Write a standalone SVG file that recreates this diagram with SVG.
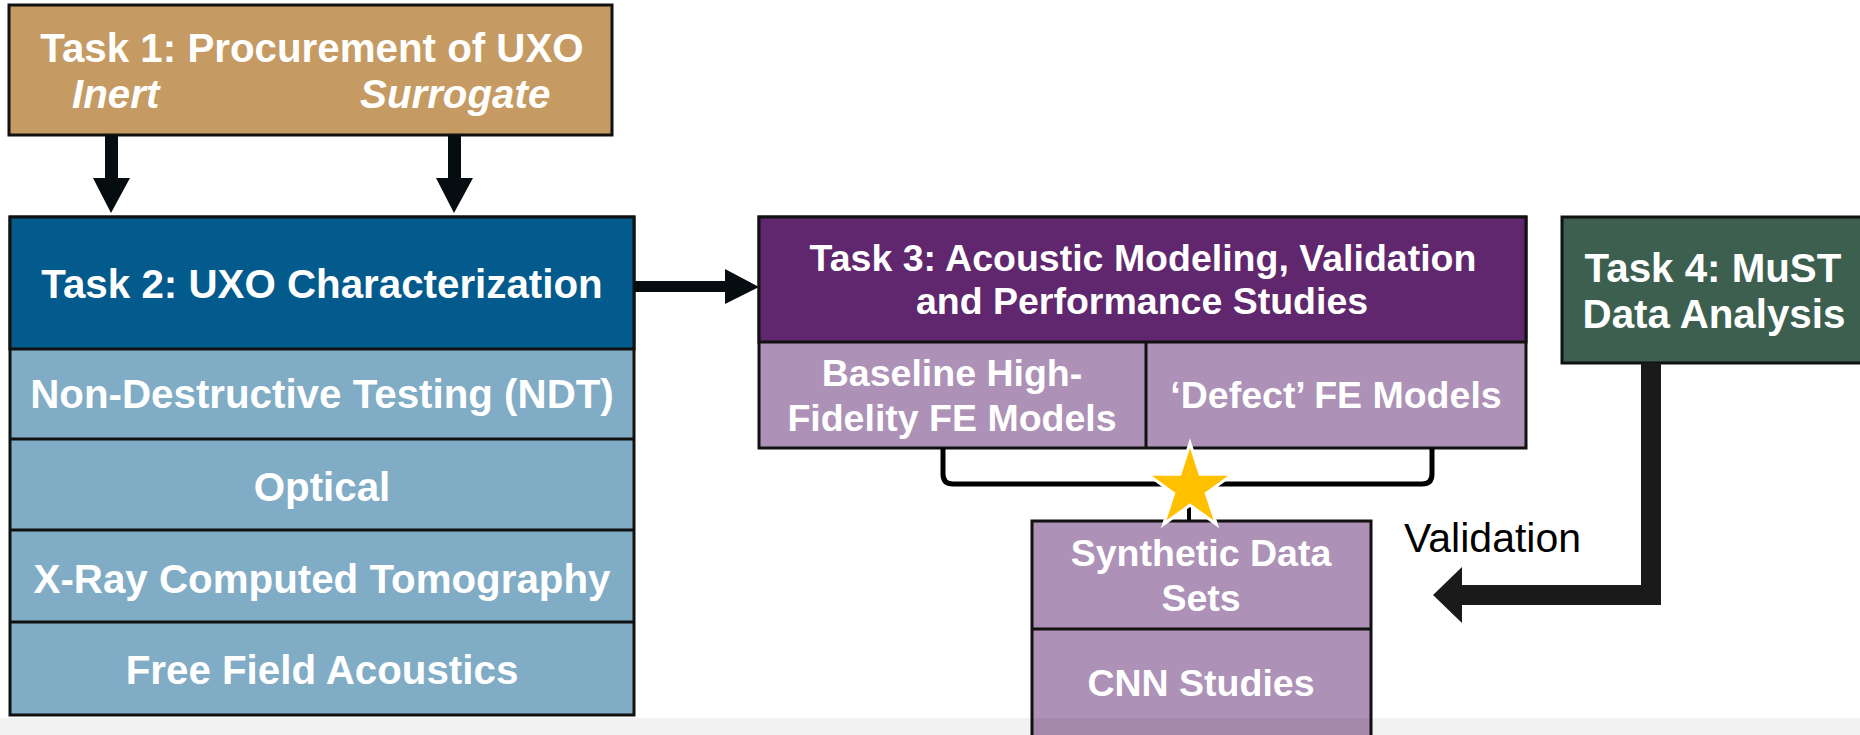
<svg xmlns="http://www.w3.org/2000/svg" width="1860" height="735" viewBox="0 0 1860 735">
  <style>
    .box { stroke: #111; stroke-width: 3; }
    .tan { fill: #C59B63; }
    .blue { fill: #035A8D; }
    .lblue { fill: #80ACC6; }
    .purple { fill: #60266E; }
    .lpurple { fill: #AD91B7; }
    .green { fill: #3C5F4F; }
    .t { font-family: "Liberation Sans", Arial, sans-serif; font-weight: bold; fill: #fff; text-anchor: middle; font-size: 40.3px; }
    .s { font-size: 37.5px; }
    .it { font-style: italic; text-anchor: start; }
    .lbl { font-family: "Liberation Sans", Arial, sans-serif; font-size: 41px; fill: #000; }
    .sep { stroke: #111; stroke-width: 3; }
  </style>

  <rect width="1860" height="735" fill="#fff"/>

  <!-- Task 1 -->
  <g id="task1">
    <rect class="box tan" x="9" y="5" width="603" height="130"/>
    <text class="t" x="312" y="62">Task 1: Procurement of UXO</text>
    <text class="t it" x="72" y="108">Inert</text>
    <text class="t it" x="360" y="108">Surrogate</text>
  </g>

  <!-- Task 2 with its characterisation methods -->
  <g id="task2">
    <rect class="box lblue" x="10" y="217" width="624" height="498"/>
    <rect class="box blue" x="10" y="217" width="624" height="132"/>
    <line class="sep" x1="10" y1="439" x2="634" y2="439"/>
    <line class="sep" x1="10" y1="530" x2="634" y2="530"/>
    <line class="sep" x1="10" y1="622" x2="634" y2="622"/>
    <text class="t" x="322" y="298">Task 2: UXO Characterization</text>
    <text class="t" x="322" y="408">Non-Destructive Testing (NDT)</text>
    <text class="t" x="322" y="501">Optical</text>
    <text class="t" x="322" y="593">X-Ray Computed Tomography</text>
    <text class="t" x="322" y="684">Free Field Acoustics</text>
  </g>

  <!-- Task 3 with model types -->
  <g id="task3">
    <rect class="box lpurple" x="759" y="217" width="767" height="231"/>
    <rect class="box purple" x="759" y="217" width="767" height="125"/>
    <line class="sep" x1="1146" y1="342" x2="1146" y2="448"/>
    <text class="t s" x="1143" y="271">Task 3: Acoustic Modeling, Validation</text>
    <text class="t s" x="1142" y="314">and Performance Studies</text>
    <text class="t s" x="952" y="386">Baseline High-</text>
    <text class="t s" x="952" y="431">Fidelity FE Models</text>
    <text class="t s" x="1336" y="408">‘Defect’ FE Models</text>
  </g>

  <!-- Task 4 -->
  <g id="task4">
    <rect class="box green" x="1562" y="217" width="310" height="146"/>
    <text class="t" x="1713" y="282">Task 4: MuST</text>
    <text class="t" x="1714" y="328">Data Analysis</text>
  </g>

  <!-- Connectors -->
  <g id="connectors">
    <path fill="#060D10" d="M105,135 L118,135 L118,178 L130,178 L111,213 L93,178 L105,178 Z"/>
    <path fill="#060D10" d="M448,135 L461,135 L461,178 L473,178 L454,213 L436,178 L448,178 Z"/>
    <path fill="#060D10" d="M634,281 L725,281 L725,269 L759,287 L725,304 L725,292 L634,292 Z"/>
    <path fill="none" stroke="#000" stroke-width="5" d="M943,448 V474 Q943,484 953,484 H1422 Q1432,484 1432,474 V448"/>
    <line x1="1189" y1="484" x2="1189" y2="522" stroke="#000" stroke-width="4"/>
    <path fill="#1A1A1A" d="M1641,363 L1661,363 L1661,605 L1462,605 L1462,623 L1433,595 L1462,567 L1462,585 L1641,585 Z"/>
    <text class="lbl" x="1404" y="552">Validation</text>
  </g>

  <!-- Synthetic data / CNN block -->
  <g id="synthetic">
    <rect class="box lpurple" x="1032" y="521" width="339" height="220"/>
    <line class="sep" x1="1032" y1="629" x2="1371" y2="629"/>
    <text class="t s" x="1201" y="566">Synthetic Data</text>
    <text class="t s" x="1201" y="611">Sets</text>
    <text class="t s" x="1201" y="696">CNN Studies</text>
  </g>

  <!-- Highlight star -->
  <g id="star">
    <polygon fill="#FFC000" stroke="#fff" stroke-width="6" paint-order="stroke" stroke-miterlimit="10"
      points="1190,448 1198.98,475.64 1228.04,475.64 1204.53,492.72 1213.51,520.36 1190,503.28 1166.49,520.36 1175.47,492.72 1151.96,475.64 1181.02,475.64"/>
  </g>

  <!-- Footer strip -->
  <rect x="0" y="718" width="1860" height="17" fill="#000" fill-opacity="0.05"/>
</svg>
